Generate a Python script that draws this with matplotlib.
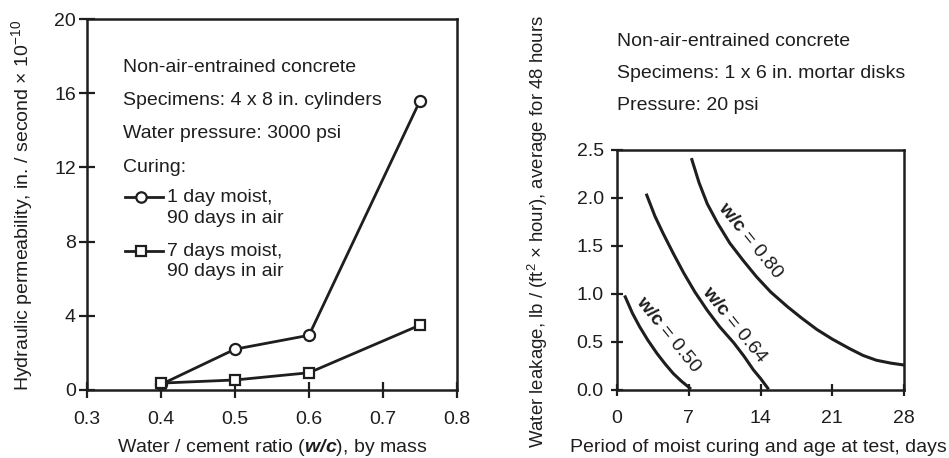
import numpy as np
import matplotlib
matplotlib.use("Agg")
import matplotlib.pyplot as plt

plt.rcParams['font.family'] = ['Liberation Sans', 'DejaVu Sans']
plt.rcParams['mathtext.fontset'] = 'custom'
plt.rcParams['mathtext.rm'] = 'Liberation Sans'
plt.rcParams['mathtext.it'] = 'Liberation Sans:italic'
plt.rcParams['mathtext.bf'] = 'Liberation Sans:bold'
plt.rcParams['mathtext.bfit'] = 'Liberation Sans:bold:italic'

# left panel: permeability vs w/c
wc = [0.40, 0.50, 0.60, 0.75]
perm_1day = [0.30, 2.2, 2.95, 15.6]
perm_7day = [0.37, 0.54, 0.93, 3.5]

# right panel: leakage vs curing period
days_050 = [0.8, 1.5, 2.2, 3.0, 3.9, 4.7, 5.5, 6.3, 7.1]
leak_050 = [0.97, 0.80, 0.66, 0.52, 0.38, 0.27, 0.17, 0.09, 0.02]
days_064 = [2.9, 3.7, 4.5, 5.5, 6.5, 7.6, 8.8, 10.0, 11.4, 12.4, 13.3, 14.0, 14.7]
leak_064 = [2.03, 1.81, 1.63, 1.42, 1.22, 1.02, 0.83, 0.66, 0.49, 0.35, 0.21, 0.12, 0.02]
days_080 = [7.3, 8.0, 8.8, 9.8, 11.0, 12.3, 13.6, 15.0, 16.6, 18.0, 19.5, 21.0, 22.7, 24.0, 25.3, 26.7, 28.0]
leak_080 = [2.40, 2.16, 1.94, 1.74, 1.53, 1.35, 1.18, 1.02, 0.87, 0.75, 0.63, 0.53, 0.43, 0.36, 0.31, 0.28, 0.26]

C = '#1e1e1e'
FS = 14

fig = plt.figure(figsize=(9.49, 4.58), dpi=100)
ax1 = fig.add_axes([0.0917, 0.1485, 0.3899, 0.81])
ax2 = fig.add_axes([0.6502, 0.1485, 0.3024, 0.524])

for ax in (ax1, ax2):
    for s in ax.spines.values():
        s.set_linewidth(1.8)
        s.set_color(C)
    ax.tick_params(direction='inout', width=1.6, color=C, labelsize=FS, labelcolor=C)
ax1.tick_params(axis='both', length=12)
ax1.tick_params(axis='x', pad=9)
ax1.tick_params(axis='y', pad=2)
ax2.tick_params(axis='both', length=9)
ax2.tick_params(axis='x', pad=10)
ax2.tick_params(axis='y', pad=5)

# left
ax1.plot(wc, perm_1day, color=C, lw=2, marker='o', ms=8, mfc='white', mec=C, mew=1.6)
ax1.plot(wc, perm_7day, color=C, lw=2, marker='s', ms=7.5, mfc='white', mec=C, mew=1.6)
ax1.set_xlim(0.3, 0.8)
ax1.set_ylim(0, 20)
ax1.set_xticks([0.3, 0.4, 0.5, 0.6, 0.7, 0.8])
ax1.set_yticks([0, 4, 8, 12, 16, 20])
fig.text(272 / 949, 1 - 448 / 458, r'Water / cement ratio ($\mathbfit{w/c}$), by mass',
         fontsize=FS, color=C, ha='center', va='center')

lines = ['Non-air-entrained concrete', 'Specimens: 4 x 8 in. cylinders',
         'Water pressure: 3000 psi', 'Curing:']
ys = [68, 100, 133, 167]
for t, y in zip(lines, ys):
    fig.text(123 / 949, 1 - y / 458, t, fontsize=FS, color=C, va='center', ha='left')

# legend keys
for y1, mk, lab in [(197, 'o', '1 day moist,'), (251, 's', '7 days moist,')]:
    yy = 1 - y1 / 458
    fig.add_artist(plt.Line2D([125 / 949, 141 / 949, 163 / 949], [yy, yy, yy], color=C, lw=2,
                              marker=mk, markevery=[1], ms=7.5 if mk == 'o' else 7,
                              mfc='white', mec=C, mew=1.6))
    fig.text(167 / 949, yy, lab, fontsize=FS, color=C, va='center', ha='left')
    fig.text(167 / 949, yy - 21 / 458, '90 days in air', fontsize=FS, color=C, va='center', ha='left')

fig.text(22 / 949, 1 - 205 / 458, r'Hydraulic permeability, in. / second $\times$ 10$^{-10}$',
         rotation=90, fontsize=FS, color=C, ha='center', va='center')

# right
ax2.plot(days_050, leak_050, color=C, lw=2.2)
ax2.plot(days_064, leak_064, color=C, lw=2.2)
ax2.plot(days_080, leak_080, color=C, lw=2.2)
ax2.set_xlim(0, 28)
ax2.set_ylim(0, 2.5)
ax2.set_xticks([0, 7, 14, 21, 28])
ax2.set_yticks([0, 0.5, 1.0, 1.5, 2.0, 2.5])
ax2.set_yticklabels(['0.0', '0.5', '1.0', '1.5', '2.0', '2.5'])
fig.text(758 / 949, 1 - 447 / 458, 'Period of moist curing and age at test, days',
         fontsize=FS, color=C, ha='center', va='center')

for x, y, v in [(5.0, 0.57, '0.50'), (11.4, 0.68, '0.64'), (13.04, 1.55, '0.80')]:
    ax2.text(x, y, r'$\mathbf{w/c}$ = ' + v, rotation=-51, fontsize=FS, color=C,
             ha='center', va='center', rotation_mode='anchor')

for t, y in zip(['Non-air-entrained concrete', 'Specimens: 1 x 6 in. mortar disks',
                 'Pressure: 20 psi'], [41, 73, 106]):
    fig.text(617 / 949, 1 - y / 458, t, fontsize=FS, color=C, va='center', ha='left')

fig.text(538 / 949, 1 - 231 / 458,
         r'Water leakage, lb / (ft$^2$ $\times$ hour), average for 48 hours',
         rotation=90, fontsize=13.4, color=C, ha='center', va='center')

fig.savefig('out.png', dpi=100, facecolor='white')
